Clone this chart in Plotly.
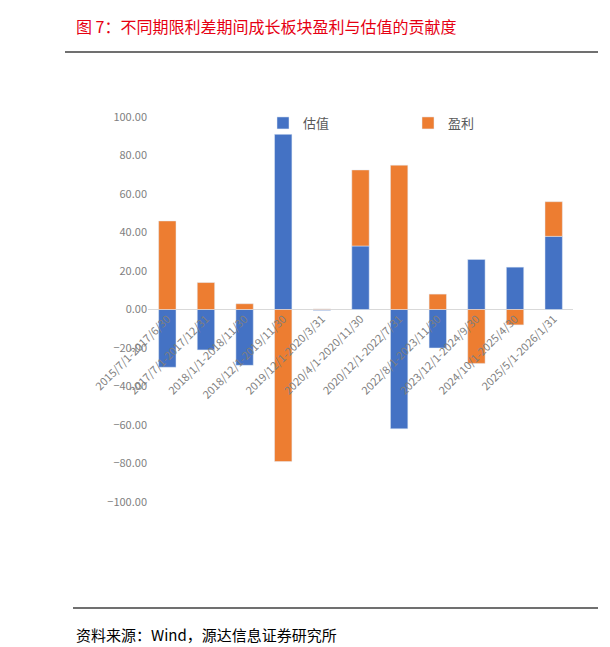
import plotly.graph_objects as go

categories = ["2015/7/1-2017/6/30", "2017/7/1-2017/12/31", "2018/1/1-2018/11/30",
              "2018/12/1-2019/11/30", "2019/12/1-2020/3/31", "2020/4/1-2020/11/30",
              "2020/12/1-2022/7/31", "2022/8/1-2023/11/30", "2023/12/1-2024/9/30",
              "2024/10/1-2025/4/30", "2025/5/1-2026/1/31"]
valuation = [-30, -21, -29, 91, -0.5, 33, -62, -20, 26, 22, 38]
earnings = [46, 14, 3, -79, 0.3, 39.5, 75, 8, -28, -8, 18]
tickvals = [-100, -80, -60, -40, -20, 0, 20, 40, 60, 80, 100]

W, L, T, B = 425, 140, 109, 153
H = 647 - T - B
def px(x): return (x - L) / W
def py(y): return (647 - B - y) / H

fig = go.Figure()
fig.add_bar(x=categories, y=valuation, name="估值", marker_color="#4472C4")
fig.add_bar(x=categories, y=earnings, name="盈利", marker_color="#ED7D31")
font = "Noto Sans CJK SC"
fig.update_layout(
    barmode="relative", bargap=0.55, width=610, height=647,
    paper_bgcolor="white", plot_bgcolor="white",
    margin=dict(l=L, r=610 - L - W, t=T, b=B),
    font=dict(family=font, color="#7f7f7f", size=11),
    legend=dict(orientation="h", x=px(255), y=py(115), xanchor="left", yanchor="middle",
                font=dict(size=13, color="#595959"), entrywidth=100, bgcolor="rgba(0,0,0,0)"),
    xaxis=dict(tickangle=-45, showline=False, ticks="", tickfont=dict(size=11, color="#7f7f7f"),
               anchor="free", position=0.5, automargin=False),
    yaxis=dict(range=[-100, 100], tickvals=tickvals, tickformat=".2f", showgrid=False,
               zeroline=True, zerolinecolor="#d9d9d9", zerolinewidth=1, automargin=False,
               tickfont=dict(size=11, color="#7f7f7f")),
)
fig.add_annotation(text="图 7：不同期限利差期间成长板块盈利与估值的贡献度", xref="paper", yref="paper",
                   x=px(66), xanchor="left", y=py(18), yanchor="middle", showarrow=False,
                   font=dict(size=16, color="#e60012", family=font))
fig.add_annotation(text="资料来源：Wind，源达信息证券研究所", xref="paper", yref="paper",
                   x=px(66), xanchor="left", y=py(626), yanchor="middle", showarrow=False,
                   font=dict(size=15, color="#000000", family=font))
fig.add_shape(type="line", xref="paper", yref="paper", x0=px(57), x1=px(590), y0=py(44), y1=py(44),
              line=dict(color="#404040", width=1.5))
fig.add_shape(type="line", xref="paper", yref="paper", x0=px(65), x1=px(590), y0=py(600), y1=py(600),
              line=dict(color="#404040", width=1.5))
fig.write_html("out.html")
